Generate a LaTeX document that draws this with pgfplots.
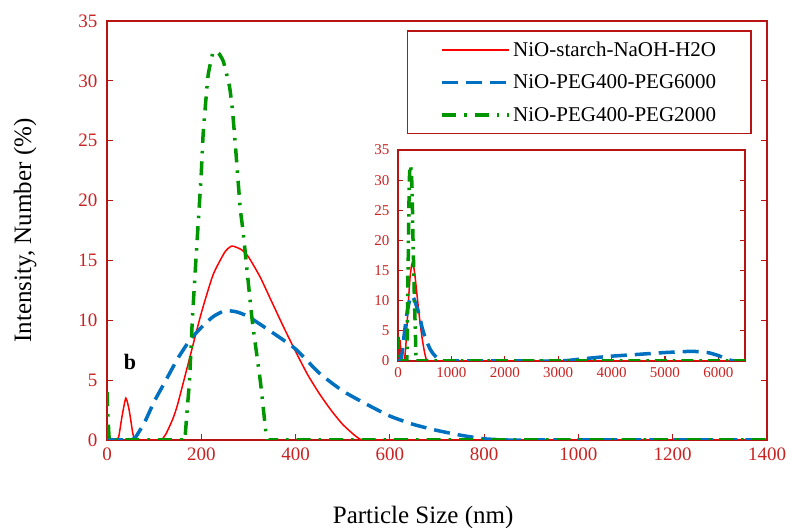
\documentclass[border=0pt]{standalone}
\usepackage{fontspec}
\setmainfont{Liberation Serif}
\usepackage{pgfplots}
\usepackage{pgfplotstable}
\pgfplotsset{compat=1.18}
\definecolor{axred}{RGB}{185,20,20}
\definecolor{tickred}{RGB}{200,35,35}
\definecolor{lred}{RGB}{255,0,0}
\definecolor{lblue}{RGB}{0,112,192}
\definecolor{lgreen}{RGB}{0,150,0}

\pgfplotstableread{
x y
0 0
15 0
20 0
25 0.3
32 2.0
40 3.5
47 2.5
55 0.5
60 0
70 0
105 0
115 0
125 0.5
140 1.8
150 3.0
175 6.8
200 10.6
225 13.8
250 15.7
265 16.2
285 15.9
300 15.3
325 13.6
350 11.5
375 9.4
400 7.4
425 5.5
450 3.9
475 2.5
500 1.3
525 0.4
540 0
555 0
700 0
1000 0
2000 0
3000 0
4000 0
5000 0
6500 0
}\redtab

\pgfplotstableread{
x y
0 0
40 0
50 0
60 0.2
80 1.5
100 3.2
125 5.0
150 6.8
175 8.3
200 9.4
225 10.3
250 10.8
275 10.7
300 10.3
350 9.0
400 7.6
450 5.6
500 4.1
550 3.0
600 2.0
650 1.3
700 0.8
750 0.4
800 0.1
850 0
900 0
1200 0
1600 0
2000 0
2500 0
3000 0
3200 0.1
3500 0.4
4000 0.8
4500 1.1
5000 1.4
5500 1.6
5800 1.4
6000 0.9
6200 0.2
6300 0
6500 0
}\bluetab

\pgfplotstableread{
x y
0 4.0
5 0
20 0
100 0
150 0
160 0
165 0
170 2.5
175 5
181 10
189 15.3
196 19.7
200 22.3
204 25.6
211 29
215 30.6
225 32.4
237 32.3
247 31.6
260 29.5
266 27.6
272 24.8
276 22.7
283 19.2
289 17.3
308 10
325 5
339 0
345 0
400 0
700 0
1000 0
2000 0
4000 0
6500 0
}\greentab

\pgfplotsset{
  redline/.style={lred, line width=1.5bp},
  blueline/.style={lblue, line width=3.5bp, dash pattern=on 16bp off 8bp},
  greenline/.style={lgreen, line width=3.5bp, dash pattern=on 14bp off 8bp on 2.5bp off 8bp},
}

\begin{document}
\begin{tikzpicture}
\useasboundingbox (0,0) rectangle (789bp,528bp);
\begin{axis}[
  at={(107bp,88bp)}, anchor=south west,
  scale only axis, width=660bp, height=419bp,
  xmin=0, xmax=1400, ymin=0, ymax=35,
  xtick={0,200,...,1400}, ytick={0,5,...,35},
  tick align=inside, xtick pos=left, ytick pos=both,
  axis line style={draw=axred, line width=1.2bp},
  major tick length=6bp,
  tick style={axred, line width=1.2bp},
  ticklabel style={tickred, font=\fontsize{19bp}{22bp}\selectfont},
  yticklabel style={xshift=-6bp},
  xticklabel style={yshift=-4bp},
  /pgf/number format/assume math mode=true,
  /pgf/number format/set thousands separator={},
  xlabel={Particle Size (nm)},
  ylabel={Intensity, Number (\%)},
  label style={font=\fontsize{25bp}{28bp}\selectfont, black},
  xlabel style={at={(axis description cs:0.479,-0.184)}, anchor=center},
  ylabel style={at={(axis description cs:-0.124,0.5)}, anchor=center},
  legend style={at={(axis description cs:0.4545,0.9785)}, anchor=north west,
    draw=axred, line width=1.5bp, fill=white,
    font=\fontsize{21bp}{24bp}\selectfont,
    inner xsep=33bp, inner ysep=9bp, row sep=13bp},
  legend cell align=left,
  legend image code/.code={\draw[#1] (0bp,0bp) -- (67bp,0bp);},
]
\addplot[redline, smooth, tension=0.35] table {\redtab};
\addlegendentry{NiO-starch-NaOH-H2O}
\addplot[blueline, smooth, tension=0.35] table {\bluetab};
\addlegendentry{NiO-PEG400-PEG6000}
\addplot[greenline, smooth, tension=0.25] table {\greentab};
\addlegendentry{NiO-PEG400-PEG2000}
\node[font=\bfseries\fontsize{22bp}{24bp}\selectfont] at (axis cs:49,6.5) {b};
\end{axis}

\begin{axis}[
  at={(398bp,167bp)}, anchor=south west,
  scale only axis, width=347bp, height=211bp,
  xmin=0, xmax=6500, ymin=0, ymax=35,
  xtick={0,1000,...,6000}, ytick={0,5,...,35},
  tick align=inside, xtick pos=left, ytick pos=both,
  axis background/.style={fill=white},
  axis line style={draw=axred, line width=2.5bp},
  major tick length=5bp,
  tick style={axred, line width=1.2bp},
  ticklabel style={tickred, font=\fontsize{15bp}{17bp}\selectfont},
  yticklabel style={xshift=-5bp},
  xticklabel style={yshift=-3bp},
  /pgf/number format/assume math mode=true,
  /pgf/number format/set thousands separator={},
]
\addplot[lred, line width=1.5bp] table {\redtab};
\addplot[lblue, line width=3.5bp, dash pattern=on 16bp off 8bp, smooth, tension=0.35] table {\bluetab};
\addplot[lgreen, line width=3.5bp, dash pattern=on 12bp off 6bp on 2.5bp off 6bp] table {\greentab};
\end{axis}
\end{tikzpicture}
\end{document}
